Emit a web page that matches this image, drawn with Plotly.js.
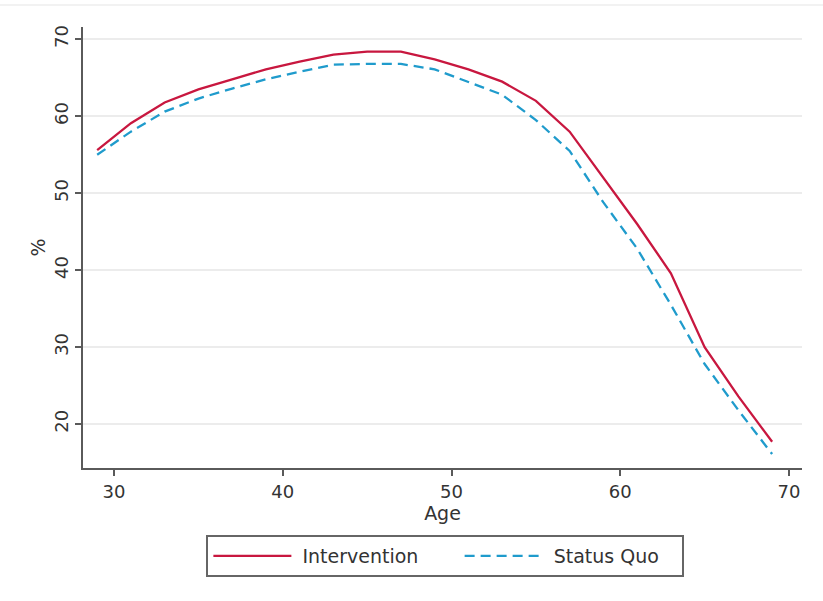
<!DOCTYPE html>
<html>
<head>
<meta charset="utf-8">
<script src="https://cdn.plot.ly/plotly-3.0.1.min.js"></script>
<style>html,body{margin:0;padding:0;background:#fff;}#chart{width:823px;height:601px;}</style>
</head>
<body>
<div id="chart"></div>
<script>
const ages = [29, 31, 33, 35, 37, 39, 41, 43, 45, 47, 49, 51, 53, 55, 57, 59, 61, 63, 65, 67, 69];
const intervention = [55.6, 59.1, 61.8, 63.5, 64.8, 66.1, 67.1, 68.0, 68.4, 68.4, 67.4, 66.1, 64.5, 62.0, 58.0, 52.0, 46.0, 39.6, 30.0, 23.6, 17.7];
const statusQuo = [55.0, 58.0, 60.6, 62.3, 63.6, 64.8, 65.8, 66.7, 66.8, 66.8, 66.1, 64.4, 62.8, 59.5, 55.5, 48.8, 42.8, 35.5, 27.8, 21.8, 16.1];
const xTicks = [30, 40, 50, 60, 70];
const yTicks = [20, 30, 40, 50, 60, 70];
const seriesNames = ["Intervention", "Status Quo"];

const font = "DejaVu Sans, sans-serif";
const nb = n => "\u00A0".repeat(n);
const traces = [
  {x: ages, y: intervention, name: nb(1) + seriesNames[0] + nb(6), type: "scatter", mode: "lines",
   line: {color: "#c8173f", width: 2.3}},
  {x: ages, y: statusQuo, name: nb(1) + seriesNames[1] + nb(3), type: "scatter", mode: "lines",
   line: {color: "#1f9bcc", width: 2.3, dash: "10px,6px"}}
];
const layout = {
  width: 823, height: 601,
  margin: {l: 83, r: 21, t: 27, b: 133},
  paper_bgcolor: "#fff", plot_bgcolor: "#fff",
  font: {family: font, size: 18, color: "#333"},
  xaxis: {
    range: [28.16, 70.77], tickvals: xTicks, ticktext: xTicks.map(String),
    showgrid: false, zeroline: false,
    showline: true, linecolor: "#5a5a5a", linewidth: 2,
    ticks: "outside", ticklen: 6, tickwidth: 2, tickcolor: "#5a5a5a",
    tickfont: {family: font, size: 18, color: "#333"},
    title: {text: "Age", font: {family: font, size: 19, color: "#333"}, standoff: 6}
  },
  yaxis: {
    range: [14.29, 71.6], tickvals: yTicks, ticktext: yTicks.map(String),
    showgrid: true, gridcolor: "#ececec", gridwidth: 2, zeroline: false,
    showline: true, linecolor: "#5a5a5a", linewidth: 2,
    ticks: "outside", ticklen: 6, tickwidth: 2, tickcolor: "#5a5a5a",
    tickangle: -90,
    tickfont: {family: font, size: 18, color: "#333"},
    title: {text: "%", font: {family: font, size: 19, color: "#333"}, standoff: 0}
  },
  showlegend: true,
  legend: {
    orientation: "h", x: 0.504, xanchor: "center", y: -0.152, yanchor: "top",
    bordercolor: "#666", borderwidth: 2, bgcolor: "#fff",
    font: {family: font, size: 19, color: "#333"},
    itemwidth: 78
  },
  shapes: [
    {type: "line", xref: "paper", yref: "paper", x0: -0.12, x1: 1.03, y0: 1.05, y1: 1.05,
     line: {color: "#f2f2f2", width: 2}}
  ]
};
Plotly.newPlot("chart", traces, layout, {displayModeBar: false, staticPlot: true});
</script>
</body>
</html>
